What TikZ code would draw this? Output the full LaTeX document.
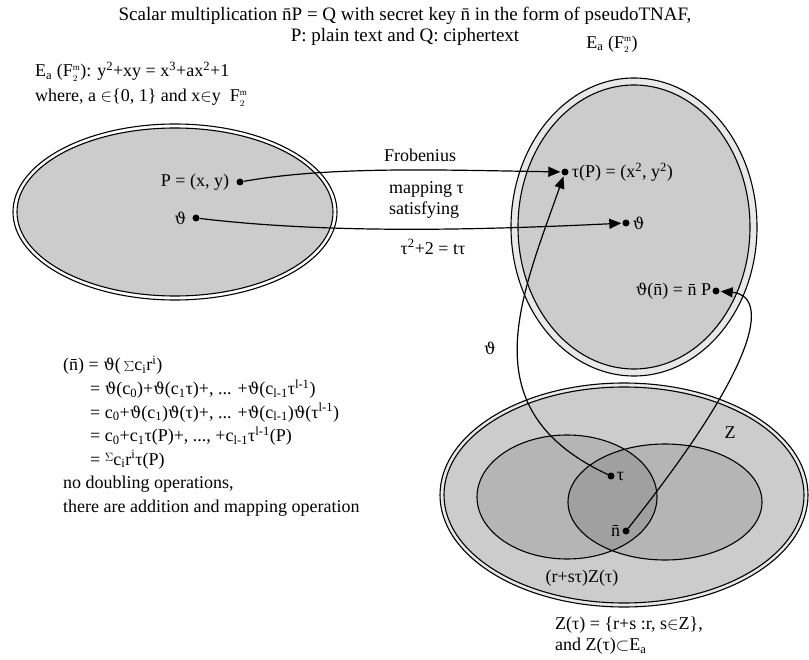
\documentclass[tikz,border=0pt]{standalone}
\usepackage{fontspec}
\setmainfont{Liberation Serif}
\newfontfamily\symf[Scale=0.9]{DejaVu Serif}
\usetikzlibrary{arrows.meta, positioning}
\definecolor{ecFill}{HTML}{CCCCCC}
\definecolor{ecRing}{HTML}{E8E8E8}
\definecolor{ecLobe}{HTML}{B5B5B5}
\definecolor{ecCore}{HTML}{A0A0A0}
\newcommand{\nbar}{\=n}
\newcommand{\vth}{{\symf ϑ}}
\newcommand{\sups}[1]{\textsuperscript{#1}}
\newcommand{\subs}[1]{\textsubscript{#1}}
\newcommand{\Fm}{F$_{\scriptscriptstyle 2}^{\scriptscriptstyle\mathrm{m}}$}

\begin{document}
\begin{tikzpicture}[
        x=1pt, y=-1pt,
        font=\fontsize{18}{21}\selectfont,
        % small black points on the curves
        pt/.style   ={circle, fill=black, inner sep=0pt, minimum size=7pt},
        lbl/.style  ={inner sep=1pt},
        blk/.style  ={inner sep=0pt, align=left},
        arr/.style  ={-{Triangle[length=12pt, width=10pt]}, line width=1.2pt, shorten >=1pt},
        ring/.style ={draw=black, line width=1.1pt}
    ]
    \useasboundingbox (0,0) rectangle (809,660);

    % the three curves, drawn as double outlines
    \draw[ring, fill=white]  (175,212) ellipse [x radius=162, y radius=88];
    \draw[ring, fill=ecFill] (175,212) ellipse [x radius=158, y radius=84];

    \draw[ring, fill=ecRing] (634,227) ellipse [x radius=123, y radius=149];
    \draw[ring, fill=ecFill] (634,227) ellipse [x radius=116, y radius=142];

    \draw[ring, fill=ecRing] (624,495) ellipse [x radius=184, y radius=112];
    \draw[ring, fill=ecFill] (624,495) ellipse [x radius=180, y radius=108];

    % Z(tau) and its shifted copy
    \fill[ecLobe] (567,497) ellipse [x radius=90, y radius=62];
    \fill[ecLobe] (665,502) ellipse [x radius=97, y radius=58];
    \begin{scope}
        \clip (567,497) ellipse [x radius=90, y radius=62];
        \fill[ecCore] (665,502) ellipse [x radius=97, y radius=58];
    \end{scope}
    \draw[line width=1.1pt] (567,497) ellipse [x radius=90, y radius=62];
    \draw[line width=1.1pt] (665,502) ellipse [x radius=97, y radius=58];

    % texts
    \node[lbl, font=\fontsize{19}{21}\selectfont] (title1) at (405,16)
        {Scalar multiplication \nbar P = Q with secret key \nbar\ in the form of pseudoTNAF,};
    \node[lbl, font=\fontsize{19}{21}\selectfont] (title2) at (405,37)
        {P: plain text and Q: ciphertext};
    \node[blk, anchor=north west, font=\fontsize{18}{25}\selectfont] (curve) at (35,62)
        {E\subs{a} (\Fm): y\sups{2}+xy = x\sups{3}+ax\sups{2}+1\\
         where, a $\in$\{0, 1\} and x$\in$y \ \Fm};
    \node[lbl] (ea) at (612,44) {E\subs{a} (\Fm)};

    \node[lbl] (frob) at (420,155) {Frobenius};
    \node[blk, anchor=west, font=\fontsize{18}{21}\selectfont] (map) at (389,200)
        {mapping τ\\satisfying};
    \node[lbl] (eqn) at (433,247) {τ\sups{2}+2 = tτ};

    \node[blk, anchor=north west, font=\fontsize{18}{23.6}\selectfont] (sum) at (63,356)
        {(\nbar) = \vth(\,$\sum$c\subs{i}r\sups{i})\\
         \hspace*{27pt}= \vth(c\subs{0})+\vth(c\subs{1}τ)+, ... +\vth(c\subs{l-1}τ\sups{l-1})\\
         \hspace*{27pt}= c\subs{0}+\vth(c\subs{1})\vth(τ)+, ... +\vth(c\subs{l-1})\vth(τ\sups{l-1})\\
         \hspace*{27pt}= c\subs{0}+c\subs{1}τ(P)+, ..., +c\subs{l-1}τ\sups{l-1}(P)\\
         \hspace*{27pt}= \raisebox{4pt}{$\scriptstyle\Sigma$}c\subs{i}r\sups{i}τ(P)\\
         no doubling operations,\\
         there are addition and mapping operation};

    \node[lbl] (zspan) at (582,578) {(r+sτ)Z(τ)};
    \node[blk, anchor=north west, font=\fontsize{18}{21}\selectfont] (zdef) at (555,617)
        {Z(τ) = \{r+s :r, s$\in$Z\},\\
         and Z(τ)$\subset$E\subs{a}};

    % points
    \node[pt] (p)    at (240,182) {};
    \node[pt] (th1)  at (196,218) {};
    \node[pt] (taup) at (565,172) {};
    \node[pt] (th2)  at (626,223) {};
    \node[pt] (thn)  at (716,291) {};
    \node[pt] (tau)  at (611,476) {};
    \node[pt] (nb)   at (626,531) {};

    \node[lbl, left=6pt of p]     (plbl)   {P = (x, y)};
    \node[lbl, left=5pt of th1]   (th1lbl) {\vth};
    \node[lbl, right=2pt of taup] (tplbl)  {τ(P) = (x\sups{2}, y\sups{2})};
    \node[lbl, right=2pt of th2]  (th2lbl) {\vth};
    \node[lbl, left=0pt of thn]   (thnlbl) {\vth(\nbar) = \nbar\ P};
    \node[lbl, right=1pt of tau]  (taulbl) {τ};
    \node[lbl, left=1pt of nb]    (nblbl)  {\nbar};

    \node[lbl] (thmap) at (490,348) {\vth};
    \node[lbl] (zmap)  at (730,433) {Z};

    % mappings
    \draw[arr] (p)   .. controls (330,166) and (440,170) .. (taup);
    \draw[arr] (th1) .. controls (330,234) and (480,230) .. (th2);
    \draw[arr] (tau) .. controls (470,410) and (520,300) .. (taup);
    \draw[arr] (nb)  .. controls (770,350) and (765,295) .. (thn);

\end{tikzpicture}
\end{document}
